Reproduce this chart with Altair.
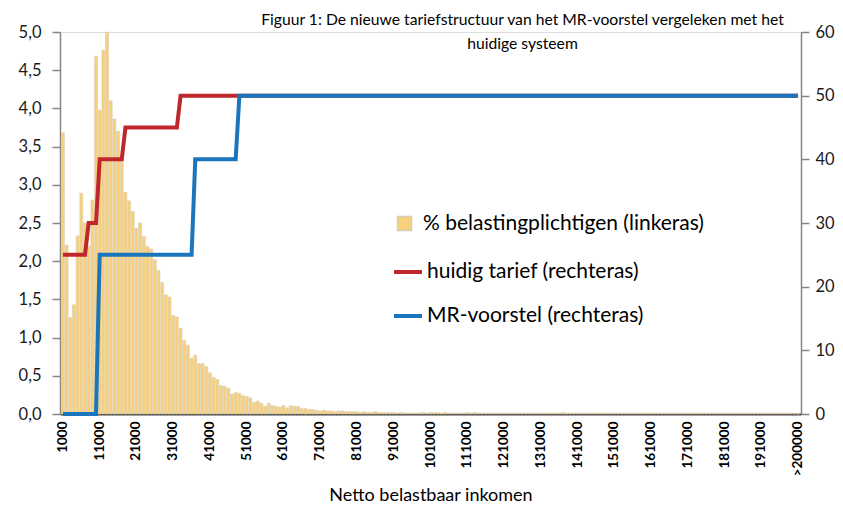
import altair as alt
import pandas as pd

FONT = "Lato"

# Income categories (1000 ... 200000, >200000)
categories = [str(v) for v in range(1000, 200001, 1000)] + [">200000"]

axis_labels = ["1000", "11000", "21000", "31000", "41000", "51000", "61000", "71000",
               "81000", "91000", "101000", "111000", "121000", "131000", "141000",
               "151000", "161000", "171000", "181000", "191000", ">200000"]

# % belastingplichtigen (left axis), one value per category
pct = [
    3.68, 2.21, 1.26, 1.43, 2.33, 2.89, 2.50, 2.20, 2.80, 4.68,
    3.98, 4.76, 5.00, 4.10, 3.86, 3.70, 3.35, 2.90, 2.79, 2.65,
    2.43, 2.50, 2.32, 2.19, 2.16, 2.02, 1.88, 1.72, 1.56, 1.53,
    1.29, 1.27, 1.12, 0.96, 0.90, 0.73, 0.77, 0.66, 0.66, 0.62,
    0.54, 0.48, 0.45, 0.37, 0.36, 0.34, 0.26, 0.28, 0.27, 0.24,
    0.23, 0.21, 0.15, 0.17, 0.14, 0.10, 0.14, 0.11, 0.10, 0.09,
    0.11, 0.08, 0.11, 0.10, 0.10, 0.07, 0.07, 0.06, 0.06, 0.05,
    0.04, 0.05, 0.04, 0.04, 0.03, 0.04, 0.04, 0.03, 0.03, 0.03,
    0.03, 0.02, 0.03, 0.02, 0.02, 0.03, 0.02, 0.02, 0.02, 0.02,
    0.02, 0.01, 0.02, 0.01, 0.01, 0.01, 0.01, 0.01, 0.02, 0.01,
    0.02, 0.02, 0.02, 0.01, 0.02, 0.01, 0.01, 0.01, 0.01, 0.01,
    0.02, 0.01, 0.02, 0.01, 0.01, 0.01, 0.01, 0.01, 0.01, 0.01,
    0.01, 0.01, 0.01, 0.01, 0.01, 0.01, 0.01, 0.01, 0.01, 0.01,
    0.01, 0.01, 0.01, 0.01, 0.01, 0.01, 0.02, 0.01, 0.01, 0.01,
    0.01, 0.01, 0.01, 0.01, 0.01, 0.01, 0.01, 0.01, 0.01, 0.01,
    0.01, 0.01, 0.01, 0.01, 0.01, 0.01, 0.01, 0.01, 0.01, 0.01,
    0.01, 0.01, 0.01, 0.01, 0.01, 0.01, 0.01, 0.01, 0.01, 0.01,
    0.01, 0.01, 0.01, 0.01, 0.01, 0.01, 0.01, 0.01, 0.01, 0.01,
    0.01, 0.01, 0.01, 0.01, 0.01, 0.01, 0.01, 0.01, 0.01, 0.01,
    0.01, 0.01, 0.01, 0.01, 0.01, 0.01, 0.01, 0.01, 0.01, 0.01,
    0.00,
]

# Tariff lines (right axis): points where the step function changes
huidig_cats = ["1000", "7000", "8000", "10000", "11000", "17000", "18000", "32000", "33000", ">200000"]
huidig_vals = [25, 25, 30, 30, 40, 40, 45, 45, 50, 50]

mr_cats = ["1000", "10000", "11000", "36000", "37000", "48000", "49000", ">200000"]
mr_vals = [0, 0, 25, 25, 40, 40, 50, 50]

bar_label = "% belastingplichtigen (linkeras)"
huidig_label = "huidig tarief (rechteras)"
mr_label = "MR-voorstel (rechteras)"

df_bars = pd.DataFrame({"cat": categories, "pct": pct, "legend": bar_label})
df_huidig = pd.DataFrame({"cat": huidig_cats, "val": huidig_vals, "series": huidig_label})
df_mr = pd.DataFrame({"cat": mr_cats, "val": mr_vals, "series": mr_label})

xscale = alt.Scale(domain=categories, paddingInner=0.2, paddingOuter=0.4)

x_axis = alt.Axis(
    values=axis_labels, labelAngle=-90, labelFont=FONT, labelFontSize=13.5,
    labelFontWeight="bold", labelColor="#000000", labelPadding=7, ticks=False,
    domainColor="#404040", domainWidth=2, title="Netto belastbaar inkomen",
    titleFont=FONT, titleFontSize=18, titleFontWeight="normal", titleColor="#000000",
    titlePadding=11, labelOverlap=False,
)

bars = alt.Chart(df_bars).mark_bar(stroke="#D6CCB6", strokeWidth=0.6).encode(
    x=alt.X("cat:N", scale=xscale, axis=x_axis),
    y=alt.Y(
        "pct:Q",
        scale=alt.Scale(domain=[0, 5], nice=False),
        axis=alt.Axis(
            orient="left", values=[0, 0.5, 1, 1.5, 2, 2.5, 3, 3.5, 4, 4.5, 5],
            labelExpr="replace(format(datum.value, '.1f'), '.', ',')",
            labelFont=FONT, labelFontSize=16.5, labelColor="#1a1a1a", tickSize=8,
            tickColor="#868686", domainColor="#868686", domainWidth=1.5, tickWidth=1.5,
            grid=False, title=None, labelPadding=11,
        ),
    ),
    fill=alt.Fill(
        "legend:N",
        scale=alt.Scale(domain=[bar_label], range=["#F8D07A"]),
        legend=alt.Legend(
            orient="none", legendX=334, legendY=181, title=None, symbolType="square",
            symbolSize=196, labelFont=FONT, labelFontSize=21, labelColor="#000000",
            labelLimit=500, padding=0, labelOffset=8,
        ),
    ),
)

stroke_scale = alt.Scale(domain=[huidig_label, mr_label], range=["#C0272D", "#1B75BC"])
stroke_legend = alt.Legend(
    orient="none", legendX=332, legendY=224, title=None, symbolType="stroke",
    symbolSize=784, symbolStrokeWidth=4, labelFont=FONT, labelFontSize=21,
    labelColor="#000000", labelLimit=500, padding=0, rowPadding=18, labelOffset=3,
)

y_right = alt.Y(
    "val:Q",
    scale=alt.Scale(domain=[0, 60], nice=False),
    axis=alt.Axis(
        orient="right", values=[0, 10, 20, 30, 40, 50, 60], labelFont=FONT,
        labelFontSize=16.5, labelColor="#1a1a1a", tickSize=8, tickColor="#868686",
        domainColor="#868686", domainWidth=1.5, tickWidth=1.5, grid=False,
        title=None, labelPadding=6,
    ),
)

line_red = alt.Chart(df_huidig).mark_line(strokeWidth=4).encode(
    x=alt.X("cat:N", scale=xscale),
    y=y_right,
    stroke=alt.Stroke("series:N", scale=stroke_scale, legend=stroke_legend),
)

line_blue = alt.Chart(df_mr).mark_line(strokeWidth=4).encode(
    x=alt.X("cat:N", scale=xscale),
    y=y_right,
    stroke=alt.Stroke("series:N", scale=stroke_scale, legend=stroke_legend),
)

lines = alt.layer(line_red, line_blue)

chart = alt.layer(bars, lines).resolve_scale(y="independent").properties(
    width=741,
    height=382,
    autosize=alt.AutoSizeParams(type="none"),
    padding={"left": 52, "top": 24, "right": 34, "bottom": 95},
    title=alt.TitleParams(
        text=["Figuur 1: De nieuwe tariefstructuur van het MR-voorstel vergeleken met het",
              "huidige systeem"],
        font=FONT, fontSize=15.7, fontWeight="normal", color="#000000",
        anchor="middle", dx=92, offset=-29, lineHeight=24,
    ),
).configure_view(stroke="transparent").configure(background="white")

chart.save("out.html", embed_options={"renderer": "svg", "actions": False})
